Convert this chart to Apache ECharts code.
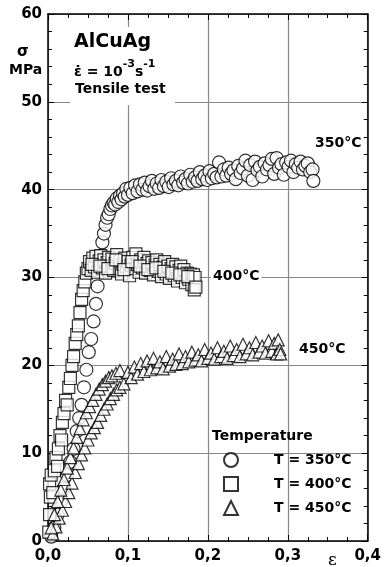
<!DOCTYPE html>
<html>
<head>
<meta charset="utf-8">
<script src="https://cdn.jsdelivr.net/npm/echarts@6/dist/echarts.min.js"></script>
<style>
  html, body { margin: 0; padding: 0; background: #fff; }
  #chart { width: 384px; height: 567px; }
</style>
</head>
<body>
<div id="chart"></div>
<script>
// stress-strain curves of AlCuAg, tensile test

var xTicks = [0, 0.1, 0.2, 0.3, 0.4];
var yTicks = [0, 10, 20, 30, 40, 50, 60];
var seriesNames = ['T = 350°C', 'T = 400°C', 'T = 450°C'];

// T = 350°C (circles)
var data350 = [
  [0.004,0.5],[0.008,1.5],[0.012,3],[0.016,4.5],[0.02,6],[0.024,7.5],[0.028,9],[0.032,10.5],
  [0.036,12.5],[0.039,14],[0.042,15.5],[0.045,17.5],[0.048,19.5],[0.051,21.5],[0.054,23],
  [0.057,25],[0.06,27],[0.062,29],[0.064,31],[0.066,32.5],[0.068,34],[0.07,35],[0.072,36],
  [0.074,36.8],[0.076,37.2],[0.078,37.8],[0.08,38.2],[0.082,38.5],[0.084,38.3],[0.086,39],
  [0.088,38.6],[0.09,39.3],[0.092,38.9],[0.094,39.6],[0.096,39.2],[0.098,40.1],[0.1,39.4],
  [0.103,40.2],[0.106,39.6],[0.109,40.5],[0.112,39.8],[0.115,40.6],[0.118,40],[0.121,40.8],
  [0.124,39.9],[0.127,40.4],[0.13,41],[0.133,40.1],[0.136,40.7],[0.139,40.2],[0.142,41.1],
  [0.145,40.4],[0.148,40.9],[0.151,40.3],[0.154,41.3],[0.157,40.6],[0.16,41],[0.163,40.5],
  [0.166,41.5],[0.169,40.8],[0.172,41.2],[0.175,40.7],[0.178,41.7],[0.181,40.9],[0.184,41.4],
  [0.187,41],[0.19,42],[0.193,41.2],[0.196,41.6],[0.199,41.1],[0.202,42.1],[0.205,41.3],
  [0.208,41.8],[0.211,41.4],[0.214,43.1],[0.217,41.5],[0.22,42.3],[0.223,41.6],[0.226,42.5],
  [0.229,41.8],[0.232,42.2],[0.235,41.2],[0.238,42.7],[0.241,41.9],[0.244,42.4],[0.247,43.3],
  [0.25,41.6],[0.253,42.8],[0.256,41.1],[0.259,43.2],[0.262,42.2],[0.265,42.6],[0.268,41.5],
  [0.271,43],[0.274,42.3],[0.277,42.8],[0.28,43.5],[0.283,41.8],[0.286,43.6],[0.289,42.5],
  [0.292,42.9],[0.295,41.7],[0.298,43.1],[0.301,42.6],[0.304,43.3],[0.307,42],[0.31,42.9],
  [0.313,42.5],[0.316,43.2],[0.319,42.3],[0.322,42.7],[0.325,43],[0.328,42],[0.331,42.3],
  [0.332,41]
];

// T = 400°C (squares)
var data400 = [
  [0.001,1],[0.002,3],[0.003,5],[0.002,6.5],[0.004,7.5],[0.006,5.5],[0.008,8],[0.01,9.5],
  [0.012,8.5],[0.013,10.5],[0.015,12],[0.017,11.5],[0.018,13.5],[0.02,14.5],[0.022,16],
  [0.024,15.5],[0.026,17.5],[0.028,18.5],[0.03,20],[0.032,21],[0.034,22.5],[0.036,23.5],
  [0.038,24.5],[0.04,26],[0.042,27.5],[0.044,28.5],[0.046,29.5],[0.048,30.5],[0.05,31],
  [0.052,31.8],[0.054,30.8],[0.056,32.2],[0.058,31.2],[0.06,32.4],[0.062,30.6],[0.064,31.9],
  [0.066,32.5],[0.068,31.1],[0.07,32],[0.072,30.5],[0.074,31.7],[0.076,32.3],[0.078,31.3],
  [0.08,32.1],[0.082,30.8],[0.084,31.6],[0.086,32.6],[0.088,31],[0.09,31.9],[0.092,30.4],
  [0.094,31.5],[0.096,32.2],[0.098,31.2],[0.1,31.8],[0.102,30.2],[0.104,31.4],[0.106,32.3],
  [0.108,31],[0.11,32.7],[0.112,31.5],[0.114,30.6],[0.116,32],[0.118,31.1],[0.12,32.3],
  [0.122,30.5],[0.124,31.6],[0.126,31.9],[0.128,30.8],[0.13,31.7],[0.132,30.3],[0.134,31.4],
  [0.136,32],[0.138,30.7],[0.14,31.5],[0.142,30.1],[0.144,31.2],[0.146,31.8],[0.148,30.4],
  [0.15,31.3],[0.152,29.9],[0.154,31],[0.156,31.5],[0.158,30.2],[0.16,31.2],[0.162,29.6],
  [0.164,30.8],[0.166,31.3],[0.168,30],[0.17,30.9],[0.172,29.4],[0.174,30.5],[0.176,29.8],
  [0.178,30.4],[0.18,29.2],[0.182,30.3],[0.183,28.6],[0.184,30],
  [0.055,31.5],[0.065,31.3],[0.075,31],[0.085,32],[0.095,30.9],[0.105,31.8],[0.115,31.3],
  [0.125,30.9],[0.135,31.1],[0.145,30.7],[0.155,30.5],[0.165,30.3],[0.175,30.1],[0.185,28.9]
];

// T = 450°C (triangles)
var data450 = [
  [0.006,0.8],[0.01,1.6],[0.014,2.6],[0.018,3.5],[0.022,4.5],[0.026,5.5],[0.03,6.6],[0.034,7.8],
  [0.038,8.8],[0.042,9.8],[0.046,10.6],[0.05,11.5],[0.054,12.3],[0.058,12.9],[0.062,13.5],
  [0.066,14.3],[0.07,15],[0.074,15.6],[0.078,16.2],[0.082,16.7],[0.086,17.2],[0.09,17.5],
  [0.095,17.9],
  [0.004,1.5],[0.008,3],[0.012,4.5],[0.016,5.8],[0.02,7],[0.024,8.3],[0.028,9.5],[0.032,10.6],
  [0.036,11.8],[0.04,12.8],[0.044,13.8],[0.048,14.6],[0.052,15.3],[0.056,16],[0.06,16.7],
  [0.064,17.3],[0.068,17.8],[0.072,18.2],[0.076,18.6],[0.08,18.8],[0.085,19.1],[0.09,19.4],
  [0.1,19.2],[0.104,18.6],[0.108,19.8],[0.112,19],[0.116,20.2],[0.12,19.3],[0.124,20.5],
  [0.128,19.5],[0.132,20.8],[0.136,19.7],[0.14,20.4],[0.144,19.6],[0.148,21],[0.152,19.9],
  [0.156,20.7],[0.16,20.1],[0.164,21.3],[0.168,20.2],[0.172,21],[0.176,20.4],[0.18,21.5],
  [0.184,20.6],[0.188,21.2],[0.192,20.5],[0.196,21.8],[0.2,20.8],[0.204,21.4],[0.208,20.7],
  [0.212,22],[0.216,21],[0.22,21.6],[0.224,20.8],[0.228,22.2],[0.232,21.1],[0.236,21.8],
  [0.24,21],[0.244,22.4],[0.248,21.3],[0.252,22],[0.256,21.2],[0.26,22.6],[0.264,21.5],
  [0.268,22.2],[0.272,21.4],[0.276,22.8],[0.28,21.6],[0.283,22.5],[0.286,21.3],[0.288,22.9],
  [0.29,21.8],[0.291,21.3]
];

var FONT = '"DejaVu Sans", Verdana, sans-serif';
var chart = echarts.init(document.getElementById('chart'));

function commaFmt(v) { return v.toFixed(1).replace('.', ','); }

var markerStyle = { color: '#fff', borderColor: '#000', borderWidth: 1.2 };
var tickStyle = { color: '#000', width: 1 };

var option = {
  animation: false,
  backgroundColor: '#fff',
  grid: { left: 48, right: 12, top: 14, bottom: 26 },
  legend: {
    orient: 'vertical',
    left: 223, top: 452, padding: 0,
    itemWidth: 14, itemHeight: 14, itemGap: 8,
    data: seriesNames,
    textStyle: { fontFamily: FONT, fontWeight: 'bold', fontSize: 14, color: '#000', padding: [0, 0, 0, 31] }
  },
  xAxis: [{
    type: 'value', min: xTicks[0], max: xTicks[xTicks.length - 1], interval: 0.1,
    axisLine: { show: true, lineStyle: { color: '#000', width: 1.5 } },
    axisTick: { inside: true, length: 6, lineStyle: tickStyle },
    minorTick: { show: true, splitNumber: 4, length: 4, lineStyle: tickStyle },
    splitLine: { show: true, lineStyle: { color: '#888', width: 1.2 } },
    axisLabel: { formatter: commaFmt, fontFamily: FONT, fontWeight: 'bold', fontSize: 15, color: '#000', margin: 8 }
  }, {
    type: 'value', position: 'top', min: xTicks[0], max: xTicks[xTicks.length - 1], interval: 0.1,
    axisLine: { show: true, onZero: false, lineStyle: { color: '#000', width: 1.5 } },
    axisTick: { inside: true, length: 6, lineStyle: tickStyle },
    minorTick: { show: true, splitNumber: 4, length: 4, lineStyle: tickStyle },
    splitLine: { show: false }, axisLabel: { show: false }
  }],
  yAxis: [{
    type: 'value', min: yTicks[0], max: yTicks[yTicks.length - 1], interval: 10,
    axisLine: { show: true, lineStyle: { color: '#000', width: 1.5 } },
    axisTick: { inside: true, length: 6, lineStyle: tickStyle },
    minorTick: { show: true, splitNumber: 5, length: 4, lineStyle: tickStyle },
    splitLine: { show: true, lineStyle: { color: '#888', width: 1.2 } },
    axisLabel: { fontFamily: FONT, fontWeight: 'bold', fontSize: 15, color: '#000', margin: 6 }
  }, {
    type: 'value', position: 'right', min: yTicks[0], max: yTicks[yTicks.length - 1], interval: 10,
    axisLine: { show: true, onZero: false, lineStyle: { color: '#000', width: 1.5 } },
    axisTick: { inside: true, length: 6, lineStyle: tickStyle },
    minorTick: { show: true, splitNumber: 5, length: 4, lineStyle: tickStyle },
    splitLine: { show: false }, axisLabel: { show: false }
  }],
  series: [
    { name: seriesNames[0], type: 'scatter', symbol: 'circle', symbolSize: 13, data: data350, itemStyle: markerStyle },
    { name: seriesNames[1], type: 'scatter', symbol: 'rect', symbolSize: 12, data: data400, itemStyle: markerStyle },
    { name: seriesNames[2], type: 'scatter', symbol: 'triangle', symbolSize: 12, data: data450, itemStyle: markerStyle }
  ],
  graphic: [
    { type: 'rect', left: 70, top: 27, z: 5, shape: { width: 105, height: 78 }, style: { fill: '#fff' } },
    { type: 'text', left: 17, top: 45, style: { text: 'σ', font: 'bold 15px ' + FONT, fill: '#000' } },
    { type: 'text', left: 9, top: 63, style: { text: 'MPa', font: 'bold 14px ' + FONT, fill: '#000' } },
    { type: 'text', left: 328, top: 552, style: { text: 'ε', font: '17px "DejaVu Serif", serif', fill: '#000' } },
    { type: 'text', left: 74, top: 33, z: 10, style: { text: 'AlCuAg', font: 'bold 19px ' + FONT, fill: '#000' } },
    { type: 'text', left: 74, top: 59, z: 10, style: {
        text: '{b|ε̇ = 10}{s|-3}{b|s}{s|-1}',
        rich: {
          b: { font: 'bold 14px ' + FONT, fill: '#000', lineHeight: 20, verticalAlign: 'bottom' },
          s: { font: 'bold 11px ' + FONT, fill: '#000', lineHeight: 20, verticalAlign: 'top' }
        } } },
    { type: 'text', left: 75, top: 82, z: 10, style: { text: 'Tensile test', font: 'bold 14px ' + FONT, fill: '#000' } },
    { type: 'text', left: 315, top: 136, z: 10, style: { text: '350°C', font: 'bold 14px ' + FONT, fill: '#000', backgroundColor: '#fff' } },
    { type: 'text', left: 211, top: 268, z: 10, style: { text: '400°C', font: 'bold 14px ' + FONT, fill: '#000', backgroundColor: '#fff', padding: [1, 2, 1, 2] } },
    { type: 'text', left: 297, top: 341, z: 10, style: { text: '450°C', font: 'bold 14px ' + FONT, fill: '#000', backgroundColor: '#fff', padding: [1, 2, 1, 2] } },
    { type: 'text', left: 212, top: 429, z: 10, style: { text: 'Temperature', font: 'bold 14px ' + FONT, fill: '#000' } }
  ]
};

chart.setOption(option);
</script>
</body>
</html>
